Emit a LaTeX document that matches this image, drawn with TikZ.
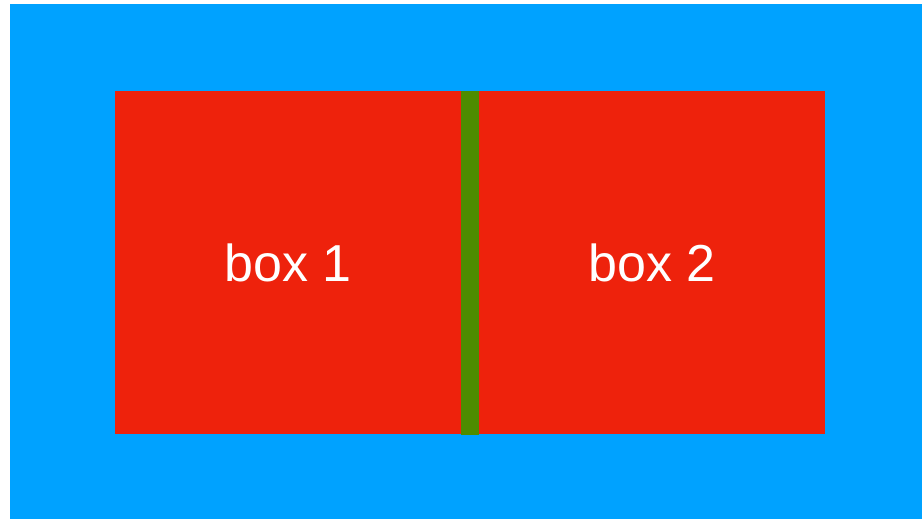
\documentclass[tikz,border=0pt]{standalone}
\usepackage{fontspec}
\setmainfont{Liberation Sans}
\definecolor{bgblue}{HTML}{00A2FF}
\definecolor{boxred}{HTML}{EE220C}
\definecolor{bargreen}{HTML}{4D8C00}
\begin{document}
\begin{tikzpicture}[x=1bp,y=-1bp,
  boxstyle/.style={fill=boxred,draw=none,text=white,font=\fontsize{52bp}{56bp}\selectfont,inner sep=0pt},
]
\useasboundingbox (0,0) rectangle (922,519);
\fill[bgblue] (10,4) rectangle (922,519);
\node[boxstyle, minimum width=346bp, minimum height=343bp, anchor=north west] (b1) at (115,91) {box 1};
\node[boxstyle, minimum width=346bp, minimum height=343bp, anchor=north west] (b2) at (479,91) {box 2};
\fill[bargreen] (b1.north east) rectangle ([yshift=-1bp]b2.south west);
\end{tikzpicture}
\end{document}
